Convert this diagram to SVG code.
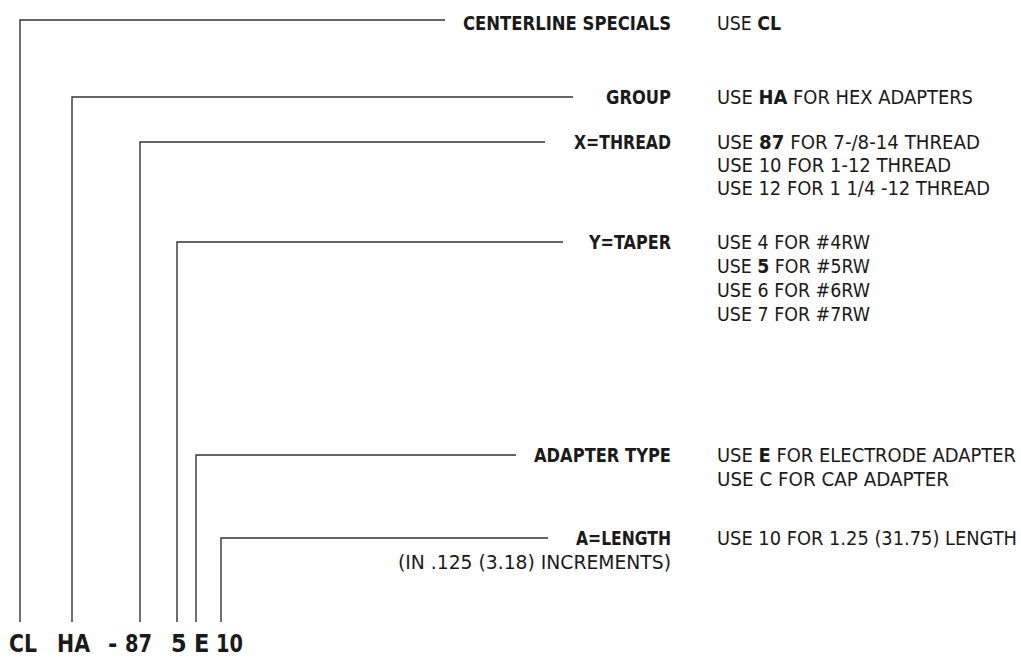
<svg xmlns="http://www.w3.org/2000/svg" width="1021" height="662" viewBox="0 0 1021 662">
<style>
text{font-family:"Liberation Sans Narrow","DejaVu Sans Condensed","Liberation Sans",sans-serif;fill:#1a1a1a;font-size:20px}
.lbl{font-weight:bold;text-anchor:end}
.b{font-weight:bold}
.code{font-weight:bold;font-size:25px}
.ln{stroke:#333;stroke-width:1.4;fill:none}
</style>
<rect width="1021" height="662" fill="#fff"/>
<g id="connectors">
<polyline class="ln" points="445,20 20,20 20,622"/>
<polyline class="ln" points="573,97 72,97 72,622"/>
<polyline class="ln" points="545,142 140,142 140,622"/>
<polyline class="ln" points="563,242 177,242 177,622"/>
<polyline class="ln" points="516,455 196,455 196,622"/>
<polyline class="ln" points="548,538 221,538 221,622"/>
</g>
<g id="centerline">
<text class="lbl" x="671" y="30" textLength="208" lengthAdjust="spacingAndGlyphs">CENTERLINE SPECIALS</text>
<text x="717" y="30" textLength="64" lengthAdjust="spacingAndGlyphs">USE <tspan class="b">CL</tspan></text>
</g>
<g id="group">
<text class="lbl" x="671" y="104" textLength="65" lengthAdjust="spacingAndGlyphs">GROUP</text>
<text x="717" y="104" textLength="256" lengthAdjust="spacingAndGlyphs">USE <tspan class="b">HA</tspan> FOR HEX ADAPTERS</text>
</g>
<g id="thread">
<text class="lbl" x="671" y="149" textLength="97" lengthAdjust="spacingAndGlyphs">X=THREAD</text>
<text x="717" y="149" textLength="263" lengthAdjust="spacingAndGlyphs">USE <tspan class="b">87</tspan> FOR 7-/8-14 THREAD</text>
<text x="717" y="172" textLength="234" lengthAdjust="spacingAndGlyphs">USE 10 FOR 1-12 THREAD</text>
<text x="717" y="195" textLength="273" lengthAdjust="spacingAndGlyphs">USE 12 FOR 1 1/4 -12 THREAD</text>
</g>
<g id="taper">
<text class="lbl" x="671" y="249" textLength="82" lengthAdjust="spacingAndGlyphs">Y=TAPER</text>
<text x="717" y="249" textLength="153" lengthAdjust="spacingAndGlyphs">USE 4 FOR #4RW</text>
<text x="717" y="273" textLength="153" lengthAdjust="spacingAndGlyphs">USE <tspan class="b">5</tspan> FOR #5RW</text>
<text x="717" y="297" textLength="153" lengthAdjust="spacingAndGlyphs">USE 6 FOR #6RW</text>
<text x="717" y="321" textLength="153" lengthAdjust="spacingAndGlyphs">USE 7 FOR #7RW</text>
</g>
<g id="adapter">
<text class="lbl" x="671" y="462" textLength="137" lengthAdjust="spacingAndGlyphs">ADAPTER TYPE</text>
<text x="717" y="462" textLength="299" lengthAdjust="spacingAndGlyphs">USE <tspan class="b">E</tspan> FOR ELECTRODE ADAPTER</text>
<text x="717" y="486" textLength="232" lengthAdjust="spacingAndGlyphs">USE C FOR CAP ADAPTER</text>
</g>
<g id="length">
<text class="lbl" x="671" y="545" textLength="95" lengthAdjust="spacingAndGlyphs">A=LENGTH</text>
<text x="671" y="569" text-anchor="end" textLength="273" lengthAdjust="spacingAndGlyphs">(IN .125 (3.18) INCREMENTS)</text>
<text x="717" y="545" textLength="300" lengthAdjust="spacingAndGlyphs">USE 10 FOR 1.25 (31.75) LENGTH</text>
</g>
<g id="code">
<text class="code" x="9" y="652" textLength="28" lengthAdjust="spacingAndGlyphs">CL</text>
<text class="code" x="57" y="652" textLength="33" lengthAdjust="spacingAndGlyphs">HA</text>
<text class="code" x="108" y="652">-</text>
<text class="code" x="125" y="652" textLength="27" lengthAdjust="spacingAndGlyphs">87</text>
<text class="code" x="171" y="652">5</text>
<text class="code" x="194" y="652">E</text>
<text class="code" x="216" y="652" textLength="27" lengthAdjust="spacingAndGlyphs">10</text>
</g>
</svg>
